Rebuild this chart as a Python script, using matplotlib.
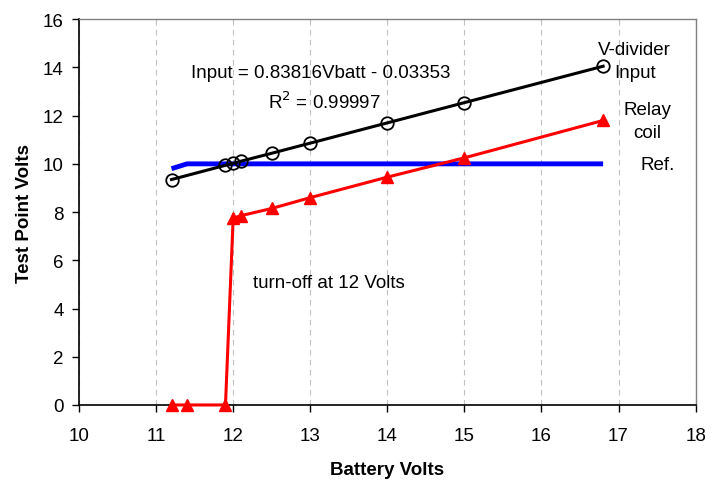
import matplotlib.pyplot as plt

plt.rcParams['font.family'] = ['Liberation Sans', 'DejaVu Sans']

# data
vbatt_input = [11.2, 11.9, 12.0, 12.1, 12.5, 13.0, 14.0, 15.0, 16.8]
v_input = [9.35, 9.94, 10.02, 10.11, 10.44, 10.86, 11.70, 12.54, 14.05]

vbatt_relay = [11.2, 11.4, 11.9, 12.0, 12.1, 12.5, 13.0, 14.0, 15.0, 16.8]
v_relay = [0.0, 0.0, 0.0, 7.75, 7.85, 8.15, 8.6, 9.45, 10.25, 11.8]

vbatt_ref = [11.2, 11.4, 16.8]
v_ref = [9.8, 10.0, 10.0]

fig = plt.figure(figsize=(7.12, 4.81), dpi=100)
ax = fig.add_axes([0.111, 0.156, 0.866, 0.802])

ax.plot(vbatt_ref, v_ref, color='#0000ff', lw=3.5, solid_capstyle='butt', zorder=3)
ax.plot(vbatt_relay, v_relay, color='#ff0000', lw=2.2, marker='^', ms=9,
        mfc='#ff0000', mec='#ff0000', zorder=4, clip_on=False)
ax.plot(vbatt_input, v_input, color='black', lw=2.2, marker='o', ms=9,
        mfc='none', mec='black', mew=1.3, zorder=5)

ax.set_xlim(10, 18)
ax.set_ylim(0, 16)
ax.set_xticks(range(10, 19))
ax.set_yticks(range(0, 17, 2))
ax.xaxis.grid(True, color='#c0c0c0', ls=(0, (5, 4)), lw=0.8)
ax.set_axisbelow(True)

fs = 13.5
ax.tick_params(direction='out', length=5, width=1, labelsize=fs, colors='black')
ax.tick_params(axis='x', pad=11)
ax.tick_params(axis='y', pad=6)
for s in ['top', 'right']:
    ax.spines[s].set_color('#808080')
    ax.spines[s].set_linewidth(1)
for s in ['left', 'bottom']:
    ax.spines[s].set_linewidth(1.2)

ax.set_xlabel('Battery Volts', fontsize=fs, fontweight='bold', labelpad=12)
ax.set_ylabel('Test Point Volts', fontsize=fs, fontweight='bold', labelpad=7)

ax.text(13.14, 13.8, 'Input = 0.83816Vbatt - 0.03353', ha='center', va='center', fontsize=fs)
ax.text(13.19, 12.6, 'R$^2$ = 0.99997', ha='center', va='center', fontsize=fs)
ax.text(17.21, 14.76, 'V-divider', ha='center', va='center', fontsize=fs)
ax.text(17.21, 13.8, 'Input', ha='center', va='center', fontsize=fs)
ax.text(17.37, 12.27, 'Relay', ha='center', va='center', fontsize=fs)
ax.text(17.37, 11.32, 'coil', ha='center', va='center', fontsize=fs)
ax.text(17.51, 9.99, 'Ref.', ha='center', va='center', fontsize=fs)
ax.text(12.26, 5.1, 'turn-off at 12 Volts', ha='left', va='center', fontsize=fs)

fig.savefig('out.png', dpi=100)
